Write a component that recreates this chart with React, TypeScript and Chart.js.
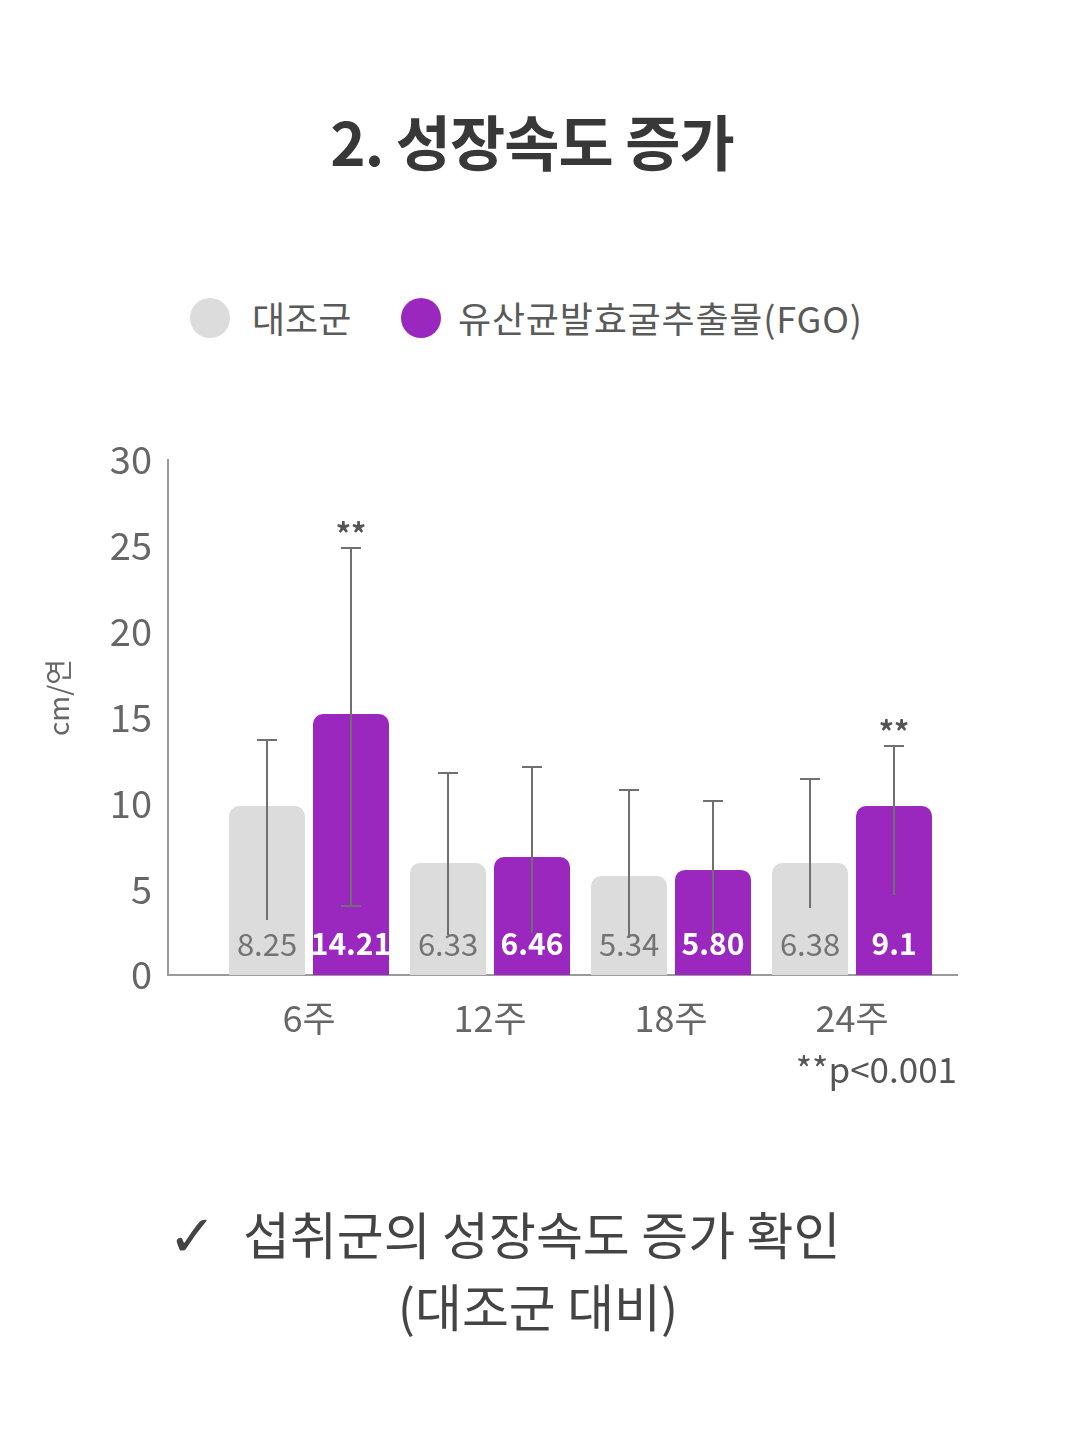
import React, { useEffect, useRef } from "react";
import { Chart, registerables } from "chart.js";

Chart.register(...registerables);

// ---- data ----
const categories = ["6주", "12주", "18주", "24주"];
const seriesNames = ["대조군", "유산균발효굴추출물(FGO)"];
const controlValues = [9.84, 6.52, 5.77, 6.52];
const fgoValues = [15.2, 6.87, 6.12, 9.84];
const controlErrHigh = [13.69, 11.76, 10.77, 11.42];
const controlErrLow = [3.2, 2.33, 2.15, 3.9];
const fgoErrHigh = [24.87, 12.11, 10.13, 13.34];
const fgoErrLow = [4.02, 2.45, 2.33, 4.66];
const controlLowCap = [false, false, false, false];
const fgoLowCap = [true, false, false, false];
const controlLabels = ["8.25", "6.33", "5.34", "6.38"];
const fgoLabels = ["14.21", "6.46", "5.80", "9.1"];
const fgoSignificance = ["**", "", "", "**"];
const yTickValues = [0, 5, 10, 15, 20, 25, 30];
const yAxisTitle = "cm/연";
const footnote = "**p<0.001";
const titleText = "2. 성장속도 증가";
const summaryCheck = "✓";
const summaryLine1 = "섭취군의 성장속도 증가 확인";
const summaryLine2 = "(대조군 대비)";

const GRAY = "#dcdcdc";
const PURPLE = "#9a28be";
const FONT = "'Noto Sans CJK KR', 'Noto Sans', sans-serif";

const overlayPlugin = {
  id: "overlay",
  afterDatasetsDraw(chart: any) {
    const ctx = chart.ctx;
    const y = chart.scales.y;
    const area = chart.chartArea;
    const metaC = chart.getDatasetMeta(0);
    const metaF = chart.getDatasetMeta(1);
    ctx.save();
    const drawErr = (meta: any, hi: number[], lo: number[], caps: boolean[]) => {
      meta.data.forEach((bar: any, i: number) => {
        const cx = bar.x;
        const yh = y.getPixelForValue(hi[i]);
        const yl = y.getPixelForValue(lo[i]);
        ctx.strokeStyle = "#707070";
        ctx.lineWidth = 2;
        ctx.beginPath();
        ctx.moveTo(cx, yh);
        ctx.lineTo(cx, yl);
        ctx.moveTo(cx - 10, yh);
        ctx.lineTo(cx + 10, yh);
        if (caps[i]) {
          ctx.moveTo(cx - 10, yl);
          ctx.lineTo(cx + 10, yl);
        }
        ctx.stroke();
      });
    };
    drawErr(metaC, controlErrHigh, controlErrLow, controlLowCap);
    drawErr(metaF, fgoErrHigh, fgoErrLow, fgoLowCap);

    // value labels
    const y0 = y.getPixelForValue(0);
    ctx.textAlign = "center";
    ctx.textBaseline = "middle";
    metaC.data.forEach((bar: any, i: number) => {
      ctx.font = `400 31px ${FONT}`;
      ctx.fillStyle = "#737373";
      ctx.fillText(controlLabels[i], bar.x, y0 - 31);
    });
    metaF.data.forEach((bar: any, i: number) => {
      ctx.font = `700 30px ${FONT}`;
      ctx.fillStyle = "#ffffff";
      ctx.fillText(fgoLabels[i], bar.x, y0 - 31);
      if (fgoSignificance[i]) {
        ctx.font = `700 30px ${FONT}`;
        ctx.fillStyle = "#555555";
        ctx.fillText(fgoSignificance[i], bar.x, y.getPixelForValue(fgoErrHigh[i]) - 14);
      }
    });

    // footnote
    ctx.font = `400 35px ${FONT}`;
    ctx.fillStyle = "#555555";
    ctx.textAlign = "right";
    ctx.fillText(footnote, area.right, area.bottom + 95);

    // y axis title
    ctx.save();
    ctx.translate(58, (area.top + area.bottom) / 2 - 20);
    ctx.rotate(-Math.PI / 2);
    ctx.textAlign = "center";
    ctx.font = `400 28px ${FONT}`;
    ctx.fillStyle = "#666666";
    ctx.fillText(yAxisTitle, 0, 0);
    ctx.restore();
    ctx.restore();
  },
};

function BarChart() {
  const ref = useRef<HTMLCanvasElement | null>(null);
  useEffect(() => {
    if (!ref.current) return;
    const chart = new Chart(ref.current, {
      type: "bar",
      data: {
        datasets: [
          {
            label: seriesNames[0],
            data: controlValues.map((v, i) => ({ x: i, y: v })),
            backgroundColor: GRAY,
            borderRadius: { topLeft: 10, topRight: 10, bottomLeft: 0, bottomRight: 0 },
            borderSkipped: "start",
          },
          {
            label: seriesNames[1],
            data: fgoValues.map((v, i) => ({ x: i, y: v })),
            backgroundColor: PURPLE,
            borderRadius: { topLeft: 10, topRight: 10, bottomLeft: 0, bottomRight: 0 },
            borderSkipped: "start",
          },
        ],
      },
      options: {
        animation: false,
        responsive: false,
        maintainAspectRatio: false,
        events: [],
        categoryPercentage: 0.928,
        barPercentage: 0.905,
        layout: { padding: { left: 30, right: 123, top: 60, bottom: 0 } },
        plugins: { legend: { display: false }, tooltip: { enabled: false }, title: { display: false } },
        scales: {
          x: {
            type: "linear",
            min: -0.779,
            max: 3.58,
            offset: false,
            afterBuildTicks: (scale: any) => {
              scale.ticks = categories.map((_, i) => ({ value: i }));
            },
            afterFit: (scale: any) => {
              scale.height = 125;
            },
            grid: { display: false, drawTicks: false, offset: false },
            border: { display: true, color: "#9a9a9a", width: 2 },
            ticks: {
              autoSkip: false,
              padding: 22,
              color: "#666666",
              font: { family: FONT, size: 36 },
              callback: (v: any) => categories[v] ?? "",
            },
          },
          y: {
            min: 0,
            max: 30,
            afterBuildTicks: (scale: any) => {
              scale.ticks = yTickValues.map((v) => ({ value: v }));
            },
            afterFit: (scale: any) => {
              scale.width = 138;
            },
            grid: { display: false, drawTicks: false },
            border: { display: true, color: "#9a9a9a", width: 2 },
            ticks: {
              padding: 16,
              color: "#666666",
              font: { family: FONT, size: 38 },
            },
          },
        },
      },
      plugins: [overlayPlugin],
    } as any);
    return () => chart.destroy();
  }, []);
  return (
    <canvas
      ref={ref}
      width={1080}
      height={700}
      style={{ position: "absolute", left: 0, top: 400, width: 1080, height: 700 }}
    />
  );
}

export default function App() {
  const text = (style: React.CSSProperties, content: React.ReactNode) => (
    <div style={{ position: "absolute", whiteSpace: "nowrap", lineHeight: 1, fontFamily: FONT, ...style }}>
      {content}
    </div>
  );
  return (
    <div
      style={{
        position: "absolute",
        left: 0,
        top: 0,
        width: 1080,
        height: 1437,
        background: "#ffffff",
        overflow: "hidden",
        fontFamily: FONT,
      }}
    >
      {text(
        { left: 0, width: 1064, top: 110, textAlign: "center", fontSize: 60, fontWeight: 700, color: "#383838", letterSpacing: -1 },
        titleText
      )}
      <div style={{ position: "absolute", left: 190, top: 298, width: 40, height: 40, borderRadius: 20, background: GRAY }} />
      {text({ left: 252, top: 299, fontSize: 36, color: "#5a5a5a" }, seriesNames[0])}
      <div style={{ position: "absolute", left: 401, top: 298, width: 40, height: 40, borderRadius: 20, background: PURPLE }} />
      {text({ left: 458, top: 299, fontSize: 36, color: "#5a5a5a", letterSpacing: 0.8 }, seriesNames[1])}
      <BarChart />
      {text(
        { left: 168, top: 1207, fontSize: 58, fontWeight: 700, color: "#444444", fontFamily: "'DejaVu Sans', sans-serif" },
        summaryCheck
      )}
      {text({ left: 243, top: 1208, fontSize: 51, color: "#444444" }, summaryLine1)}
      {text({ left: 0, width: 1076, top: 1280, textAlign: "center", fontSize: 51, color: "#444444" }, summaryLine2)}
    </div>
  );
}
